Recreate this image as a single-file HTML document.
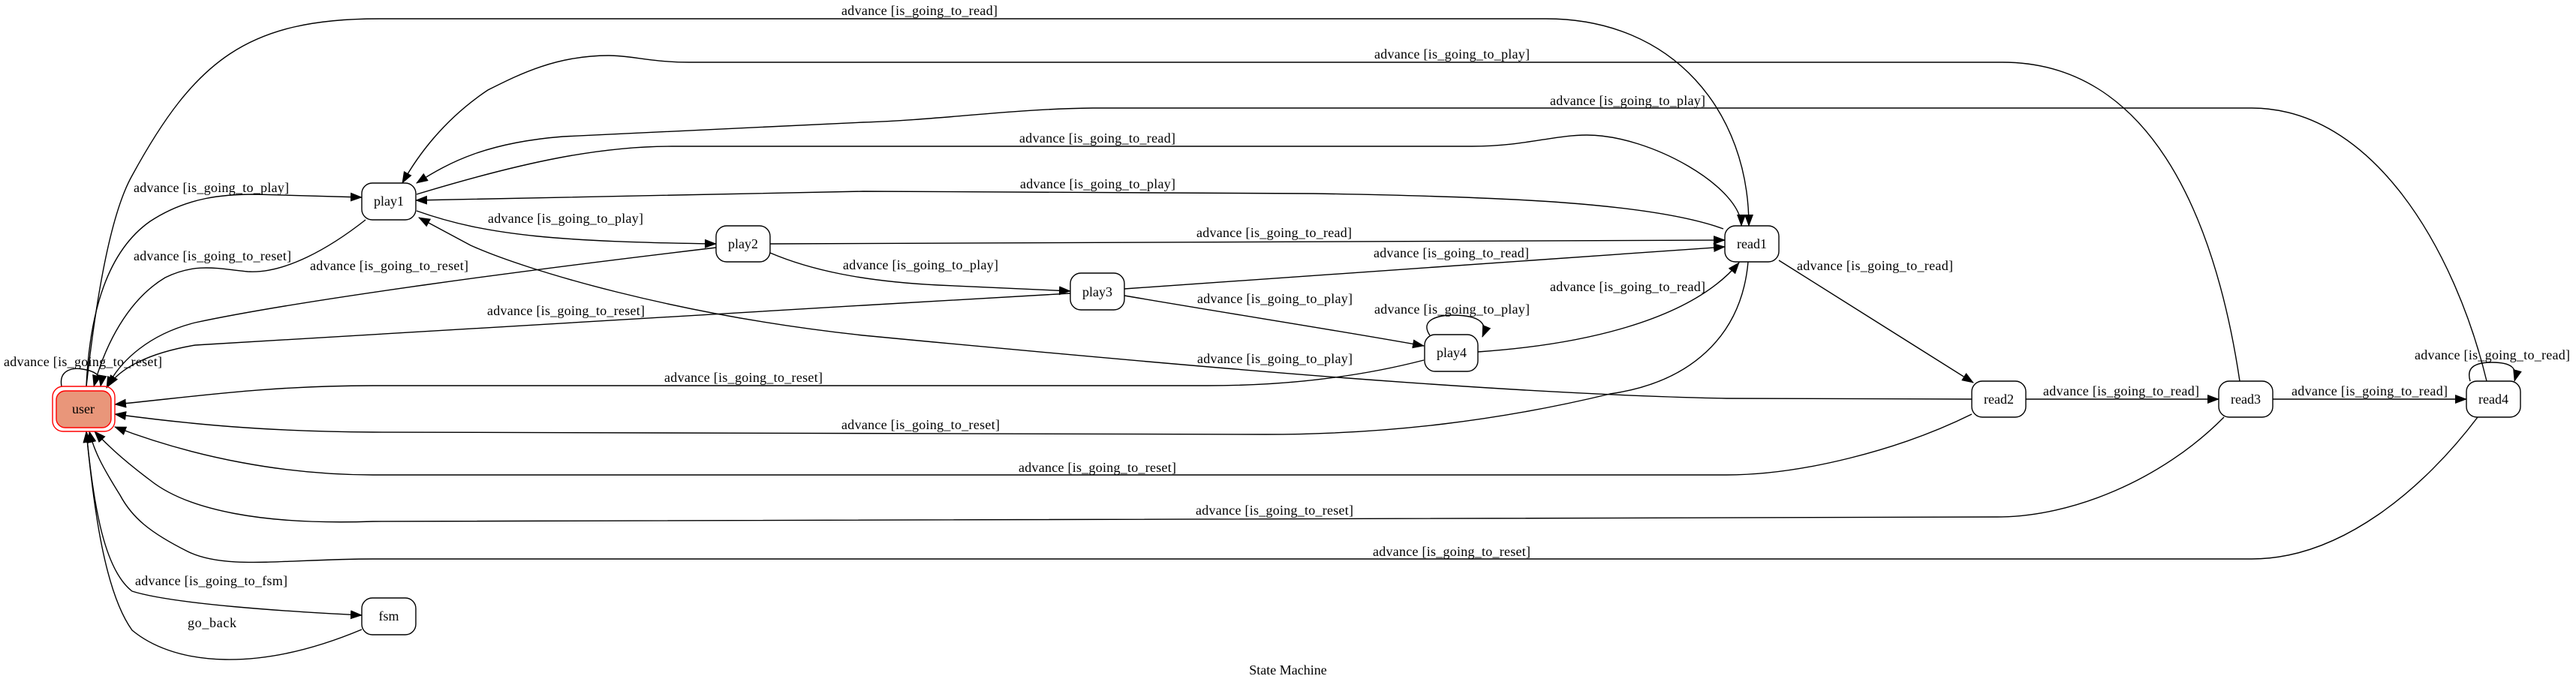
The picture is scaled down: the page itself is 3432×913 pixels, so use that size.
<!DOCTYPE html>
<html><head><meta charset="utf-8"><style>
html,body{margin:0;padding:0;background:#fff;}
svg{display:block;}
text{font-family:"Liberation Serif",serif;font-size:18px;fill:#000;}
</style></head><body>
<svg width="3432" height="913" viewBox="0 0 3432 913" xmlns="http://www.w3.org/2000/svg">
<defs>
<marker id="a" markerUnits="userSpaceOnUse" markerWidth="16" markerHeight="12" refX="15" refY="6" orient="auto">
<path d="M0,0 L16,6 L0,12 z" fill="#000"/>
</marker>
</defs>
<g fill="none" stroke="#000" stroke-width="1.4" marker-end="url(#a)">
<!-- user -> read1 top -->
<path d="M115,515 C130,380 150,280 176,234 C260,80 330,25 505,25 L2060,25 C2230,25 2330,150 2330,301"/>
<!-- read3 -> play1 -->
<path d="M2984,508 C2950,280 2860,83 2668,83 L918,83 C870,83 840,74 811,74 C740,74 690,100 650,120 C590,160 555,210 536,244"/>
<!-- read4 -> play1 -->
<path d="M3313,508 C3270,330 3160,144 3000,144 L1456,144 C1350,145 1250,160 1150,163 L750,182 C650,190 600,215 555,244"/>
<!-- play1 -> read1 -->
<path d="M555,259 C700,215 800,195 895,195 L1961,195 C2030,195 2070,180 2114,180 C2200,180 2320,250 2320,301"/>
<!-- read1 -> play1 -->
<path d="M2296,305 C2200,270 2000,262 1750,258 L1150,255 L554,267"/>
<!-- play1 -> play2 -->
<path d="M555,281 C650,315 750,322 954,325"/>
<!-- play2 -> user -->
<path d="M954,330 C700,360 400,400 260,430 C200,445 160,480 142,517"/>
<!-- play1 -> user -->
<path d="M487,293 C440,330 380,365 330,362 C290,358 260,350 220,370 C170,400 140,460 125,515"/>
<!-- user -> play1 -->
<path d="M115,515 C120,400 150,330 200,295 C250,262 300,259 340,259 L482,263"/>
<!-- play2 -> read1 -->
<path d="M1026,325 L2298,320"/>
<!-- play2 -> play3 -->
<path d="M1026,337 C1080,360 1150,375 1250,380 L1426,388"/>
<!-- play3 -> user -->
<path d="M1426,391 L1150,407 L260,460 C200,470 160,490 144,515"/>
<!-- play3 -> read1 -->
<path d="M1498,385 L2298,329"/>
<!-- play3 -> play4 -->
<path d="M1498,394 C1650,420 1780,440 1897,461"/>
<!-- play4 loop -->
<path d="M1905,447 C1890,425 1920,420 1934,420 C1960,420 1985,425 1975,449"/>
<!-- play4 -> read1 -->
<path d="M1969,469 C2100,460 2250,430 2317,350"/>
<!-- play4 -> user -->
<path d="M1897,480 C1800,505 1700,514 1609,514 L497,514 C350,514 250,530 153,539"/>
<!-- read2 -> play1 -->
<path d="M2627,532 L2300,531 C2000,525 1600,490 1150,447 C900,420 700,360 627,327 L558,290"/>
<!-- read1 -> user -->
<path d="M2329,349 C2320,450 2250,510 2145,525 C2000,560 1850,579 1686,579 L497,576 C350,575 250,565 153,552"/>
<!-- read1 -> read2 -->
<path d="M2370,347 L2629,510"/>
<!-- read2 -> read3 -->
<path d="M2699,532 L2956,532"/>
<!-- read3 -> read4 -->
<path d="M3028,532 L3286,532"/>
<!-- read4 loop -->
<path d="M3291,508 C3285,488 3300,483 3320,483 C3345,483 3355,490 3350,508"/>
<!-- read2 -> user -->
<path d="M2627,552 C2530,600 2400,633 2300,633 L497,633 C380,633 260,610 153,569"/>
<!-- read3 -> user -->
<path d="M2963,556 C2880,640 2760,689 2661,689 L497,695 C350,700 250,680 200,640 C160,610 140,590 126,575"/>
<!-- read4 -> user -->
<path d="M3301,556 C3230,650 3120,745 3000,745 L497,745 C380,745 300,760 250,735 C200,710 176,690 160,660 C135,620 125,600 119,575"/>
<!-- user -> fsm -->
<path d="M115,575 C125,680 140,760 176,788 C230,805 380,815 482,820"/>
<!-- fsm -> user -->
<path d="M482,839 C420,865 360,880 300,879 C240,878 200,860 176,840 C140,790 125,680 115,575"/>
<!-- user loop -->
<path d="M82,515 C78,492 98,490 110,492 C130,495 136,503 134,515"/>
</g>
<!-- nodes -->
<rect x="70" y="515" width="83" height="60" rx="14" fill="none" stroke="#ff0000" stroke-width="1.4"/>
<rect x="75" y="521" width="73" height="49" rx="12" fill="#e9967a" stroke="#ff0000" stroke-width="1.4"/>
<g fill="#fff" stroke="#000" stroke-width="1.4">
<rect x="482" y="244" width="72" height="49" rx="14"/>
<rect x="954" y="301" width="72" height="48" rx="14"/>
<rect x="482" y="797" width="72" height="49" rx="14"/>
<rect x="1426" y="364" width="72" height="49" rx="14"/>
<rect x="1898" y="446" width="71" height="49" rx="14"/>
<rect x="2298" y="301" width="72" height="48" rx="14"/>
<rect x="2627" y="508" width="72" height="48" rx="14"/>
<rect x="2956" y="508" width="72" height="48" rx="14"/>
<rect x="3286" y="508" width="72" height="48" rx="14"/>
</g>
<g text-anchor="middle" dominant-baseline="central">
<text x="111" y="545">user</text>
<text x="518" y="268">play1</text>
<text x="990" y="325">play2</text>
<text x="518" y="821">fsm</text>
<text x="1462" y="389">play3</text>
<text x="1934" y="470">play4</text>
<text x="2334" y="325">read1</text>
<text x="2663" y="532">read2</text>
<text x="2992" y="532">read3</text>
<text x="3322" y="532">read4</text>
<text x="1716" y="893">State Machine</text>
</g>
<g dominant-baseline="central">
<text x="1121" y="14" textLength="208">advance [is_going_to_read]</text>
<text x="1831" y="72" textLength="207">advance [is_going_to_play]</text>
<text x="2065" y="134" textLength="207">advance [is_going_to_play]</text>
<text x="1358" y="184" textLength="208">advance [is_going_to_read]</text>
<text x="1359" y="245" textLength="207">advance [is_going_to_play]</text>
<text x="178" y="250" textLength="207">advance [is_going_to_play]</text>
<text x="650" y="291" textLength="207">advance [is_going_to_play]</text>
<text x="1594" y="310" textLength="207">advance [is_going_to_read]</text>
<text x="2394" y="354" textLength="208">advance [is_going_to_read]</text>
<text x="178" y="341" textLength="210">advance [is_going_to_reset]</text>
<text x="413" y="354" textLength="211">advance [is_going_to_reset]</text>
<text x="1123" y="353" textLength="207">advance [is_going_to_play]</text>
<text x="1830" y="337" textLength="207">advance [is_going_to_read]</text>
<text x="2065" y="382" textLength="207">advance [is_going_to_read]</text>
<text x="1595" y="398" textLength="207">advance [is_going_to_play]</text>
<text x="1831" y="412" textLength="207">advance [is_going_to_play]</text>
<text x="649" y="414" textLength="210">advance [is_going_to_reset]</text>
<text x="1595" y="478" textLength="207">advance [is_going_to_play]</text>
<text x="3217" y="473" textLength="207">advance [is_going_to_read]</text>
<text x="5" y="482" textLength="211">advance [is_going_to_reset]</text>
<text x="885" y="503" textLength="211">advance [is_going_to_reset]</text>
<text x="2722" y="521" textLength="208">advance [is_going_to_read]</text>
<text x="3053" y="521" textLength="208">advance [is_going_to_read]</text>
<text x="1121" y="566" textLength="211">advance [is_going_to_reset]</text>
<text x="1357" y="623" textLength="210">advance [is_going_to_reset]</text>
<text x="1593" y="680" textLength="210">advance [is_going_to_reset]</text>
<text x="1829" y="735" textLength="210">advance [is_going_to_reset]</text>
<text x="180" y="774" textLength="203">advance [is_going_to_fsm]</text>
<text x="250" y="830" textLength="65">go_back</text>
</g>
</svg>
</body></html>
